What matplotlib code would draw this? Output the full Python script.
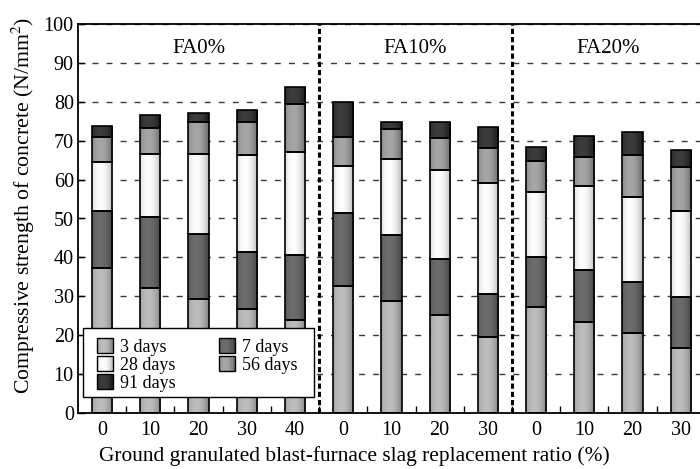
import numpy as np
import matplotlib
matplotlib.use("Agg")
import matplotlib.pyplot as plt
from matplotlib.colors import LinearSegmentedColormap
from matplotlib.patches import Rectangle
from matplotlib.legend_handler import HandlerPatch

plt.rcParams['font.family'] = ['Liberation Serif', 'DejaVu Serif']
plt.rcParams['mathtext.fontset'] = 'stix'

# Slag replacement ratio (%) for each bar, grouped by fly ash content
slag_labels = ["0", "10", "20", "30", "40", "0", "10", "20", "30", "0", "10", "20", "30"]
groups = ["FA0%", "FA10%", "FA20%"]
group_sizes = [5, 4, 4]

# Compressive strength (N/mm^2) at each age
ages = ["3 days", "7 days", "28 days", "56 days", "91 days"]
s3 = [37.2, 32.2, 29.2, 26.7, 23.9, 32.7, 28.9, 25.2, 19.6, 27.3, 23.5, 20.6, 16.8]
s7 = [52.0, 50.5, 46.1, 41.4, 40.5, 51.3, 45.8, 39.6, 30.6, 40.1, 36.8, 33.8, 29.8]
s28 = [64.4, 66.6, 66.5, 66.2, 67.0, 63.4, 65.4, 62.4, 59.1, 56.7, 58.4, 55.6, 52.0]
s56 = [70.9, 73.2, 74.9, 74.9, 79.5, 71.0, 72.9, 70.7, 68.0, 64.7, 65.8, 66.4, 63.3]
s91 = [73.7, 76.5, 77.2, 77.9, 83.9, 79.9, 74.7, 74.7, 73.6, 68.4, 71.1, 72.2, 67.7]

# Shading (edge tone, highlight tone) for each age
shades = {
    "3 days": ("#7c7c7c", "#bdbdbd"),
    "7 days": ("#3e3e3e", "#6c6c6c"),
    "28 days": ("#b4b4b4", "#fdfdfd"),
    "56 days": ("#626262", "#a6a6a6"),
    "91 days": ("#141414", "#3c3c3c"),
}

series = [s3, s7, s28, s56, s91]
x = np.arange(len(slag_labels))
bar_w = 0.42

# Horizontal cylinder-like shading profile
t = np.linspace(0, 1, 64)
profile = np.clip(1 - ((t - 0.4) / 0.62) ** 2, 0, 1)
grad = profile[np.newaxis, :]

fig = plt.figure(figsize=(7.0, 4.69), dpi=100)
ax = fig.add_axes([78 / 700, 1 - 413 / 469, 1 - 78 / 700, (413 - 24) / 469])

cmaps = {a: LinearSegmentedColormap.from_list(a, list(shades[a])) for a in ages}

prev = np.zeros(len(x))
for age, vals in zip(ages, series):
    vals = np.asarray(vals)
    heights = vals - prev
    bars = ax.bar(x, heights, bottom=prev, width=bar_w, color="none",
                  edgecolor="black", linewidth=1.2, zorder=3)
    for xi, b, h, patch in zip(x, prev, heights, bars.patches):
        im = ax.imshow(grad, extent=(xi - bar_w / 2, xi + bar_w / 2, b, b + h),
                       aspect="auto", cmap=cmaps[age], vmin=0, vmax=1,
                       interpolation="bilinear", zorder=2)
        im.set_clip_path(patch)
    prev = vals

# Separators between fly ash groups
bounds = np.cumsum(group_sizes)[:-1] - 0.5
for bx in bounds:
    ax.axvline(bx, color="black", linewidth=2.2, linestyle=(0, (1.7, 1.0)), zorder=4)

# Group titles
starts = np.concatenate([[0], np.cumsum(group_sizes)[:-1]])
for g, st, n in zip(groups, starts, group_sizes):
    ax.text(st + (n - 1) / 2, 93.6, g, ha="center", va="center", fontsize=15)

ax.set_xlim(-0.5, 12.4)
ax.set_ylim(0, 100)
ax.set_yticks(np.arange(0, 101, 10))
ax.yaxis.grid(True, color="#3a3a3a", linewidth=1.0, linestyle=(0, (4.3, 5.8)))
ax.set_axisbelow(True)

ax.set_xticks(x)
ax.set_xticklabels(slag_labels)
ax.set_xticks(np.arange(0.5, len(x) - 1, 1.0), minor=True)
ax.tick_params(axis="x", which="major", length=0, pad=6, labelsize=14.5)
ax.tick_params(axis="x", which="minor", direction="in", length=5, width=1)
ax.tick_params(axis="y", direction="in", length=5, width=1, labelsize=14.5, pad=3)

for side in ["left", "bottom", "top"]:
    ax.spines[side].set_linewidth(1.3)
ax.spines["right"].set_visible(False)

ax.set_xlabel("Ground granulated blast-furnace slag replacement ratio (%)", fontsize=15.4, labelpad=4)
ax.xaxis.set_label_coords(0.445, -0.085)
ax.set_ylabel("Compressive strength of concrete (N/mm$^2$)", fontsize=15.7, labelpad=4)
ax.yaxis.set_label_coords(-0.066, 0.533)


class GradientHandler(HandlerPatch):
    def create_artists(self, legend, orig_handle, xdescent, ydescent, width, height, fontsize, trans):
        cmap = cmaps[orig_handle.get_label()]
        n = 8
        arts = []
        for i in range(n):
            c = cmap(profile[int((i + 0.5) / n * len(profile))])
            r = Rectangle((-xdescent + i * width / n, -ydescent), width / n, height,
                          facecolor=c, edgecolor="none", transform=trans)
            arts.append(r)
        frame = Rectangle((-xdescent, -ydescent), width, height, facecolor="none",
                          edgecolor="black", linewidth=1.0, transform=trans)
        arts.append(frame)
        return arts


# Legend box
ax_w, ax_h = 622.0, 389.0
box = Rectangle(((83 - 78) / ax_w, (413 - 397) / ax_h), (314 - 83) / ax_w, (397 - 328) / ax_h,
                transform=ax.transAxes, facecolor="white", edgecolor="black",
                linewidth=1.0, zorder=5)
ax.add_patch(box)

order = ["3 days", "28 days", "91 days", "7 days", "56 days"]
handles = [Rectangle((0, 0), 1, 1, label=a) for a in order]
leg = ax.legend(handles=handles, labels=order, ncol=2, loc="center left",
                bbox_to_anchor=((97 - 78) / ax_w, (413 - 365) / ax_h), borderaxespad=0,
                fontsize=13, frameon=False,
                handlelength=0.9, handleheight=0.9, handletextpad=0.4,
                labelspacing=0.0, columnspacing=2.35, borderpad=0.0,
                handler_map={Rectangle: GradientHandler()})
leg.set_zorder(6)

fig.savefig("out.png", dpi=100)
